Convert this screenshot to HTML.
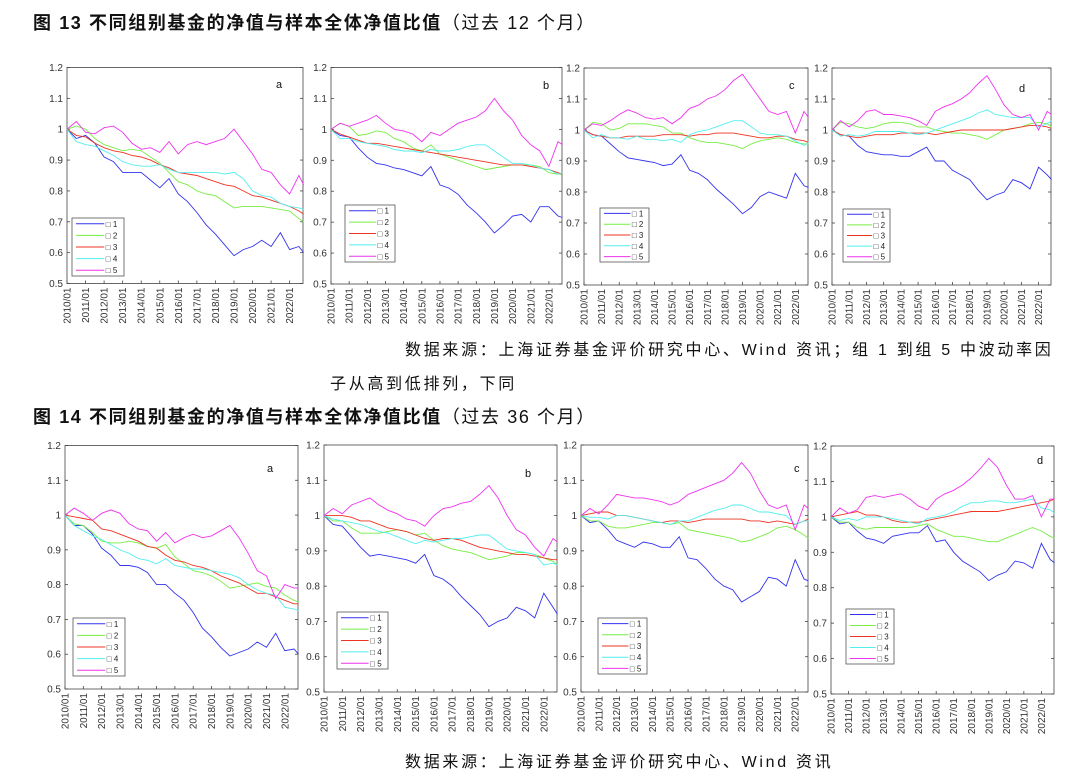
<!DOCTYPE html>
<html><head><meta charset="utf-8">
<style>
body{margin:0;background:#fff;width:1080px;height:777px;overflow:hidden;position:relative;font-family:"Liberation Sans","Noto Sans CJK SC",sans-serif;}
.t{position:absolute;white-space:nowrap;color:#111;}
.title{font-weight:bold;font-size:18px;letter-spacing:1.6px;}
.src{font-size:16px;letter-spacing:2.7px;}
svg{position:absolute;left:0;top:0;}
</style></head><body>
<div class="t title" style="left:33px;top:9px;">图 13 不同组别基金的净值与样本全体净值比值<span style="font-weight:normal">（过去 12 个月）</span></div>
<div class="t src" style="left:405px;top:336px;">数据来源：上海证券基金评价研究中心、Wind 资讯；组 1 到组 5 中波动率因</div>
<div class="t src" style="left:330px;top:370px;">子从高到低排列，下同</div>
<div class="t title" style="left:33px;top:403px;">图 14 不同组别基金的净值与样本全体净值比值<span style="font-weight:normal">（过去 36 个月）</span></div>
<div class="t src" style="left:405px;top:748px;">数据来源：上海证券基金评价研究中心、Wind 资讯</div>
<svg id="chart" width="1080" height="777"></svg>
<script>
const times=[2010,2010.5,2011,2011.5,2012,2012.5,2013,2013.5,2014,2014.5,2015,2015.5,2016,2016.5,2017,2017.5,2018,2018.5,2019,2019.5,2020,2020.5,2021,2021.5,2022,2022.5,2022.75];
const xTickLabels=["2010/01","2011/01","2012/01","2013/01","2014/01","2015/01","2016/01","2017/01","2018/01","2019/01","2020/01","2021/01","2022/01"];
const yTicks=[0.5,0.6,0.7,0.8,0.9,1,1.1,1.2];
const seriesNames=["□ 1","□ 2","□ 3","□ 4","□ 5"];
const colors=["#3333ee","#77ee44","#ee3322","#55eeee","#ee33ee"];

const a12_1=[1.0,0.97,0.98,0.955,0.91,0.895,0.86,0.86,0.86,0.835,0.81,0.84,0.79,0.765,0.73,0.69,0.66,0.625,0.59,0.61,0.62,0.64,0.62,0.665,0.61,0.62,0.60];
const a12_2=[1.0,1.01,1.0,0.97,0.95,0.94,0.93,0.935,0.93,0.91,0.89,0.86,0.83,0.82,0.80,0.79,0.785,0.765,0.745,0.75,0.75,0.75,0.745,0.74,0.735,0.71,0.70];
const a12_3=[1.0,0.98,0.975,0.955,0.94,0.93,0.925,0.915,0.91,0.90,0.885,0.875,0.86,0.855,0.85,0.84,0.83,0.82,0.815,0.80,0.785,0.78,0.77,0.76,0.75,0.735,0.725];
const a12_4=[1.0,0.96,0.95,0.945,0.93,0.915,0.895,0.885,0.88,0.88,0.885,0.87,0.86,0.86,0.86,0.86,0.86,0.855,0.86,0.84,0.80,0.785,0.78,0.76,0.75,0.745,0.74];
const a12_5=[1.0,1.025,0.99,0.985,1.005,1.01,0.99,0.955,0.935,0.94,0.925,0.96,0.92,0.95,0.96,0.95,0.96,0.97,1.0,0.96,0.92,0.87,0.86,0.82,0.79,0.85,0.82];

const b12_1=[1.0,0.98,0.975,0.94,0.91,0.89,0.885,0.875,0.87,0.86,0.85,0.88,0.82,0.81,0.79,0.755,0.73,0.70,0.665,0.69,0.72,0.725,0.70,0.75,0.75,0.72,0.715];
const b12_2=[1.0,1.02,1.01,0.98,0.985,0.995,0.99,0.97,0.96,0.94,0.93,0.95,0.92,0.91,0.90,0.89,0.88,0.87,0.875,0.88,0.885,0.885,0.885,0.88,0.86,0.855,0.855];
const b12_3=[1.0,0.985,0.975,0.965,0.955,0.955,0.95,0.945,0.94,0.935,0.93,0.925,0.92,0.915,0.91,0.905,0.90,0.895,0.89,0.885,0.885,0.885,0.88,0.875,0.87,0.86,0.855];
const b12_4=[1.0,0.97,0.97,0.96,0.955,0.95,0.945,0.935,0.93,0.93,0.925,0.935,0.93,0.93,0.935,0.945,0.95,0.95,0.93,0.91,0.89,0.89,0.885,0.875,0.87,0.855,0.86];
const b12_5=[1.0,1.02,1.01,1.02,1.03,1.045,1.02,1.0,0.995,0.985,0.96,0.99,0.98,1.0,1.02,1.03,1.04,1.06,1.1,1.06,1.03,0.98,0.95,0.93,0.88,0.96,0.95];

const c12_1=[1.0,0.985,0.98,0.955,0.93,0.91,0.905,0.90,0.895,0.885,0.89,0.92,0.87,0.86,0.84,0.81,0.785,0.76,0.73,0.75,0.785,0.80,0.79,0.78,0.86,0.82,0.815];
const c12_2=[1.0,1.025,1.02,1.0,1.005,1.02,1.02,1.02,1.015,1.01,0.99,0.99,0.975,0.965,0.96,0.96,0.955,0.95,0.94,0.955,0.965,0.97,0.975,0.97,0.96,0.955,0.955];
const c12_3=[1.0,0.985,0.98,0.975,0.975,0.98,0.98,0.98,0.98,0.985,0.985,0.985,0.98,0.985,0.985,0.99,0.99,0.99,0.985,0.98,0.975,0.975,0.98,0.98,0.97,0.965,0.96];
const c12_4=[1.0,0.975,0.985,0.975,0.975,0.97,0.98,0.97,0.97,0.965,0.97,0.96,0.985,0.995,1.0,1.01,1.02,1.03,1.03,1.01,0.99,0.985,0.985,0.98,0.965,0.95,0.96];
const c12_5=[1.0,1.02,1.015,1.03,1.05,1.065,1.055,1.04,1.035,1.04,1.02,1.04,1.07,1.08,1.1,1.11,1.13,1.16,1.18,1.14,1.1,1.06,1.05,1.06,0.99,1.06,1.04];

const d12_1=[1.0,0.985,0.98,0.95,0.93,0.925,0.92,0.92,0.915,0.915,0.93,0.945,0.9,0.9,0.87,0.855,0.84,0.805,0.775,0.79,0.80,0.84,0.83,0.81,0.88,0.855,0.84];
const d12_2=[1.0,1.025,1.02,1.01,1.005,1.01,1.02,1.025,1.025,1.02,1.01,1.01,1.0,0.995,0.99,0.99,0.985,0.98,0.97,0.985,1.0,1.005,1.01,1.02,1.025,1.02,1.01];
const d12_3=[1.0,0.985,0.98,0.975,0.98,0.985,0.985,0.985,0.99,0.99,0.99,0.99,0.985,0.99,0.995,1.0,1.0,1.0,1.0,1.0,1.0,1.005,1.01,1.015,1.015,1.01,1.005];
const d12_4=[1.0,0.98,0.985,0.98,0.985,0.995,0.995,0.995,0.995,0.99,0.985,0.99,1.0,1.01,1.02,1.03,1.04,1.055,1.065,1.05,1.045,1.04,1.04,1.04,1.01,1.02,1.03];
const d12_5=[1.0,1.03,1.01,1.03,1.06,1.065,1.05,1.05,1.045,1.04,1.03,1.015,1.06,1.075,1.085,1.1,1.12,1.15,1.175,1.13,1.08,1.05,1.04,1.05,1.0,1.06,1.05];

const a36_1=[1.0,0.97,0.97,0.945,0.905,0.885,0.855,0.855,0.85,0.835,0.80,0.80,0.775,0.755,0.72,0.675,0.65,0.62,0.595,0.605,0.615,0.635,0.62,0.66,0.61,0.615,0.60];
const a36_2=[1.0,0.975,0.97,0.95,0.925,0.92,0.92,0.925,0.92,0.91,0.905,0.915,0.88,0.86,0.84,0.835,0.825,0.81,0.79,0.795,0.80,0.805,0.795,0.79,0.77,0.755,0.75];
const a36_3=[1.0,0.995,0.99,0.985,0.96,0.955,0.945,0.935,0.925,0.91,0.905,0.885,0.87,0.865,0.855,0.85,0.84,0.825,0.815,0.805,0.79,0.775,0.775,0.765,0.755,0.745,0.745];
const a36_4=[1.0,0.97,0.955,0.94,0.93,0.915,0.90,0.89,0.875,0.87,0.86,0.875,0.855,0.85,0.845,0.845,0.84,0.835,0.83,0.82,0.80,0.785,0.775,0.77,0.735,0.73,0.725];
const a36_5=[1.0,1.02,1.005,0.985,1.005,1.015,1.005,0.975,0.96,0.955,0.925,0.95,0.92,0.935,0.945,0.935,0.94,0.955,0.97,0.935,0.89,0.84,0.825,0.76,0.80,0.79,0.79];

const b36_1=[1.0,0.975,0.97,0.94,0.91,0.885,0.89,0.885,0.88,0.875,0.865,0.89,0.83,0.82,0.80,0.77,0.745,0.72,0.685,0.70,0.71,0.74,0.73,0.71,0.78,0.74,0.72];
const b36_2=[1.0,0.985,0.985,0.965,0.95,0.95,0.95,0.955,0.96,0.955,0.945,0.95,0.93,0.915,0.905,0.90,0.895,0.885,0.875,0.88,0.885,0.895,0.895,0.89,0.88,0.87,0.86];
const b36_3=[1.0,1.0,1.0,0.995,0.985,0.985,0.975,0.965,0.96,0.955,0.945,0.935,0.93,0.935,0.935,0.93,0.92,0.91,0.905,0.90,0.895,0.89,0.89,0.885,0.88,0.875,0.875];
const b36_4=[1.0,0.99,0.985,0.98,0.975,0.965,0.955,0.95,0.94,0.93,0.92,0.93,0.925,0.93,0.935,0.935,0.94,0.945,0.945,0.925,0.905,0.90,0.895,0.89,0.86,0.865,0.86];
const b36_5=[1.0,1.02,1.005,1.03,1.04,1.05,1.03,1.015,1.005,0.99,0.985,0.97,1.0,1.02,1.025,1.035,1.04,1.06,1.085,1.05,1.0,0.96,0.945,0.91,0.885,0.935,0.925];

const c36_1=[1.0,0.98,0.985,0.96,0.93,0.92,0.91,0.925,0.92,0.91,0.91,0.94,0.88,0.875,0.85,0.82,0.80,0.79,0.755,0.77,0.785,0.825,0.82,0.80,0.875,0.82,0.815];
const c36_2=[1.0,0.985,0.985,0.97,0.965,0.965,0.97,0.975,0.98,0.98,0.975,0.98,0.96,0.955,0.95,0.945,0.94,0.935,0.925,0.93,0.94,0.95,0.965,0.97,0.96,0.945,0.935];
const c36_3=[1.0,1.005,1.01,1.01,1.0,1.0,0.995,0.99,0.985,0.98,0.985,0.985,0.98,0.985,0.99,0.99,0.99,0.99,0.99,0.985,0.985,0.98,0.985,0.98,0.975,0.985,0.99];
const c36_4=[1.0,0.995,0.995,0.99,1.0,1.0,0.995,0.99,0.985,0.98,0.975,0.985,0.985,0.995,1.005,1.015,1.02,1.03,1.03,1.02,1.01,1.01,1.005,1.0,0.975,0.985,0.985];
const c36_5=[1.0,1.02,1.005,1.03,1.06,1.055,1.05,1.05,1.045,1.04,1.03,1.04,1.06,1.07,1.08,1.09,1.1,1.12,1.15,1.12,1.07,1.03,1.02,1.03,0.96,1.03,1.02];

const d36_1=[1.0,0.98,0.985,0.96,0.94,0.935,0.925,0.945,0.95,0.955,0.955,0.975,0.93,0.935,0.90,0.875,0.86,0.845,0.82,0.835,0.845,0.875,0.87,0.855,0.925,0.88,0.87];
const d36_2=[1.0,0.985,0.985,0.97,0.965,0.97,0.97,0.97,0.97,0.97,0.975,0.98,0.965,0.955,0.945,0.945,0.94,0.935,0.93,0.93,0.94,0.95,0.96,0.97,0.96,0.945,0.94];
const d36_3=[1.0,1.005,1.01,1.015,1.005,1.005,1.0,0.99,0.985,0.985,0.985,0.99,0.995,1.0,1.005,1.01,1.015,1.015,1.015,1.015,1.02,1.025,1.03,1.035,1.04,1.045,1.05];
const d36_4=[1.0,0.99,0.995,0.99,1.0,1.0,1.0,0.995,0.99,0.985,0.98,0.995,1.0,1.005,1.015,1.03,1.04,1.04,1.045,1.045,1.04,1.04,1.045,1.05,1.025,1.02,1.01];
const d36_5=[1.0,1.025,1.01,1.02,1.055,1.06,1.055,1.06,1.065,1.05,1.03,1.02,1.05,1.065,1.075,1.09,1.11,1.135,1.165,1.14,1.09,1.05,1.05,1.06,1.0,1.05,1.05];

const panels=[
 {id:"top-a",letter:"a",x0:67,x1:303,y0:67.5,y1:283.5,lx:276,ly:88,lg:[72,218,124,276],s:[a12_1,a12_2,a12_3,a12_4,a12_5]},
 {id:"top-b",letter:"b",x0:331,x1:562,y0:67.5,y1:284,lx:543,ly:89,lg:[345,205,395,262],s:[b12_1,b12_2,b12_3,b12_4,b12_5]},
 {id:"top-c",letter:"c",x0:584,x1:808,y0:68,y1:285,lx:789,ly:89,lg:[600,208,649,262],s:[c12_1,c12_2,c12_3,c12_4,c12_5]},
 {id:"top-d",letter:"d",x0:832,x1:1051,y0:68,y1:285,lx:1019,ly:92,lg:[843,209,890,262],s:[d12_1,d12_2,d12_3,d12_4,d12_5]},
 {id:"bottom-a",letter:"a",x0:65,x1:298,y0:445.5,y1:689,lx:267,ly:472,lg:[73,618,125,676],s:[a36_1,a36_2,a36_3,a36_4,a36_5]},
 {id:"bottom-b",letter:"b",x0:324,x1:557,y0:445,y1:692,lx:525,ly:477,lg:[337,612,388,669],s:[b36_1,b36_2,b36_3,b36_4,b36_5]},
 {id:"bottom-c",letter:"c",x0:581,x1:808,y0:445,y1:692,lx:794,ly:472,lg:[598,618,647,674],s:[c36_1,c36_2,c36_3,c36_4,c36_5]},
 {id:"bottom-d",letter:"d",x0:831,x1:1054,y0:446,y1:694,lx:1037,ly:464,lg:[846,609,894,664],s:[d36_1,d36_2,d36_3,d36_4,d36_5]}
];
const NS="http://www.w3.org/2000/svg";
const svg=document.getElementById('chart');
function mk(tag,attrs,parent,txt){const e=document.createElementNS(NS,tag);for(const k in attrs)e.setAttribute(k,attrs[k]);if(txt!==undefined)e.textContent=txt;parent.appendChild(e);return e;}
panels.forEach(p=>{
  const g=mk('g',{},svg);
  
  
  const yearW=(p.x1-p.x0)/12.72;
  const X=t=>p.x0+(t-2010)*yearW;
  const Y=v=>p.y1-(v-0.5)/0.7*(p.y1-p.y0);
  const frame=mk('rect',{x:p.x0,y:p.y0,width:p.x1-p.x0,height:p.y1-p.y0,fill:'none',stroke:'#444','stroke-width':0.8},g);
  
  
  yTicks.forEach(v=>{
    const y=Y(v);
    mk('line',{x1:p.x0,x2:p.x0+3,y1:y,y2:y,stroke:'#444','stroke-width':0.8},g);
    mk('line',{x1:p.x1,x2:p.x1-3,y1:y,y2:y,stroke:'#444','stroke-width':0.8},g);
    const t=mk('text',{x:p.x0-4,y:y+3.5,'font-size':10,'text-anchor':'end',fill:'#333'},g,String(v));
    
    
  });
  xTickLabels.forEach((lab,i)=>{
    const x=X(2010+i);
    mk('line',{x1:x,x2:x,y1:p.y1,y2:p.y1-3,stroke:'#444','stroke-width':0.8},g);
    const t=mk('text',{x:x+3.5,y:p.y1+4,'font-size':10,'text-anchor':'end',fill:'#333',transform:`rotate(-90 ${x+3.5} ${p.y1+4})`},g,lab);
    
    
  });
  const lt=mk('text',{x:p.lx,y:p.ly,'font-size':11,fill:'#111'},g,p.letter);
  
  
  p.s.forEach((vals,si)=>{
    const d=vals.map((v,i)=>(i?'L':'M')+X(times[i]).toFixed(1)+','+Y(v).toFixed(1)).join('');
    const path=mk('path',{d:d,fill:'none',stroke:colors[si],'stroke-width':0.9},g);
    
    
  });
  const [l0,t0,r0,b0]=p.lg;
  const lgG=mk('g',{},g);
  
  
  mk('rect',{x:l0,y:t0,width:r0-l0,height:b0-t0,fill:'#fff',stroke:'#555','stroke-width':0.8},lgG);
  const step=(b0-t0)/5;
  seriesNames.forEach((n,si)=>{
    const y=t0+step*(si+0.5);
    mk('line',{x1:l0+4,x2:l0+(r0-l0)*0.62,y1:y,y2:y,stroke:colors[si],'stroke-width':1},lgG);
    const t=mk('text',{x:l0+(r0-l0)*0.65,y:y+3,'font-size':8,fill:'#222'},lgG,n);
    
    
  });
});
</script>
</body></html>
